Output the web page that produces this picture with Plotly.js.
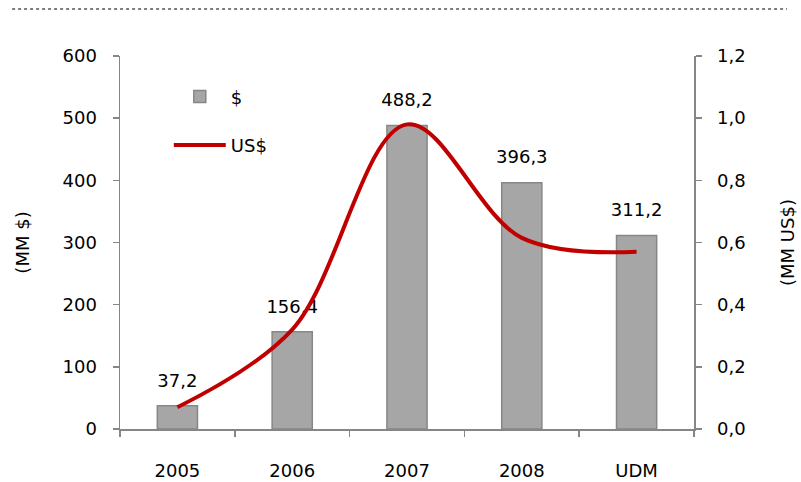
<!DOCTYPE html>
<html>
<head>
<meta charset="utf-8">
<script src="https://cdn.plot.ly/plotly-3.0.1.min.js"></script>
<style>html,body{margin:0;padding:0;background:#fff;}#chart{width:801px;height:482px;}</style>
</head>
<body>
<div id="chart"></div>
<script>
const categories = ["2005", "2006", "2007", "2008", "UDM"];
const valuesBs = [37.2, 156.4, 488.2, 396.3, 311.2];
const valuesUsd = [0.07, 0.32, 0.98, 0.615, 0.57];
const seriesNames = ["$", "US$"];
const leftTicks = [0, 100, 200, 300, 400, 500, 600];
const rightTicks = [0, 0.2, 0.4, 0.6, 0.8, 1.0, 1.2];

const FONT = "DejaVu Sans, sans-serif";
const FS = 18;
const AXIS_COLOR = "#868686";

const traces = [
  {
    type: "bar",
    name: seriesNames[0],
    x: categories,
    y: valuesBs,
    yaxis: "y",
    width: 0.35,
    marker: {color: "#A6A6A6", line: {color: "#878787", width: 1.5}},
    legendgroup: "a",
    hoverinfo: "skip"
  },
  {
    type: "scatter",
    mode: "markers+text",
    x: categories,
    y: valuesBs,
    yaxis: "y",
    marker: {size: 22, color: "rgba(0,0,0,0)"},
    texttemplate: "%{y:.1f}",
    textposition: "top center",
    cliponaxis: false,
    textfont: {family: FONT, size: FS, color: "#000"},
    showlegend: false,
    hoverinfo: "skip"
  },
  {
    type: "scatter",
    mode: "lines",
    name: seriesNames[1],
    x: categories,
    y: valuesUsd,
    yaxis: "y2",
    line: {color: "#C00000", width: 4, shape: "spline", smoothing: 1},
    legendgroup: "b",
    hoverinfo: "skip"
  }
];

const layout = {
  width: 801,
  height: 482,
  paper_bgcolor: "#fff",
  plot_bgcolor: "#fff",
  separators: ",.",
  margin: {l: 120, r: 107, t: 56, b: 53},
  font: {family: FONT, size: FS, color: "#000"},
  showlegend: true,
  legend: {
    x: 0.085, y: 0.94, xanchor: "left", yanchor: "top",
    bgcolor: "rgba(0,0,0,0)",
    traceorder: "grouped",
    tracegroupgap: 22,
    itemwidth: 52,
    font: {family: FONT, size: FS, color: "#000"}
  },
  xaxis: {
    type: "category",
    showline: true, linecolor: AXIS_COLOR, linewidth: 1.5,
    ticks: "outside", tickson: "boundaries", ticklen: 6, tickcolor: AXIS_COLOR, tickwidth: 1.5,
    ticklabelstandoff: 25,
    showgrid: false, zeroline: false,
    tickfont: {family: FONT, size: FS, color: "#000"}
  },
  yaxis: {
    range: [0, 600],
    tickvals: leftTicks,
    ticktext: leftTicks.map(String),
    showline: true, linecolor: AXIS_COLOR, linewidth: 1.5,
    ticks: "outside", ticklen: 6, tickcolor: AXIS_COLOR, tickwidth: 1.5,
    ticklabelstandoff: 12,
    showgrid: false, zeroline: false,
    tickfont: {family: FONT, size: FS, color: "#000"},
    title: {text: "(MM $)", standoff: 28, font: {family: FONT, size: FS, color: "#000"}}
  },
  yaxis2: {
    range: [0, 1.2],
    tickvals: rightTicks,
    tickformat: ".1f",
    overlaying: "y",
    side: "right",
    showline: true, linecolor: AXIS_COLOR, linewidth: 1.5,
    ticks: "outside", ticklen: 6, tickcolor: AXIS_COLOR, tickwidth: 1.5,
    ticklabelstandoff: 12,
    showgrid: false, zeroline: false,
    tickfont: {family: FONT, size: FS, color: "#000"},
    title: {text: "(MM US$)", standoff: 36, font: {family: FONT, size: FS, color: "#000"}}
  },
  shapes: [
    {
      type: "line", xref: "paper", yref: "paper",
      x0: -0.188, x1: 1.162, y0: 1.126, y1: 1.126,
      line: {color: "#7F7F7F", width: 2, dash: "dot"}
    }
  ]
};

Plotly.newPlot("chart", traces, layout, {staticPlot: true, displayModeBar: false});
</script>
</body>
</html>
